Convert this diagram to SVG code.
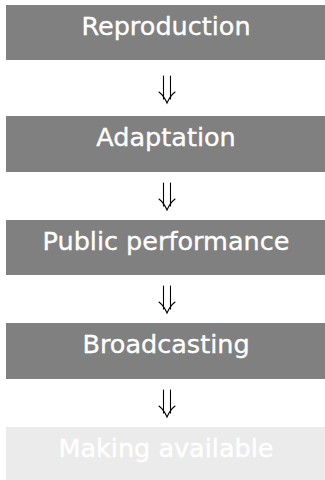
<svg xmlns="http://www.w3.org/2000/svg" width="325" height="480" viewBox="0 0 325 480">
<style>
.box{fill:#808080}
.box.light{fill:#ebebeb}
.lbl{font-family:"DejaVu Sans",sans-serif;font-size:25.5px;fill:#ffffff;stroke:#ffffff;stroke-width:0.35;text-anchor:middle}
.arr{fill:none;stroke:#000;stroke-width:1.1;stroke-linecap:round}
</style>
<rect width="325" height="480" fill="#ffffff"/>
<g id="n1"><rect class="box" x="6" y="5" width="325" height="55"/><text class="lbl" x="166" y="35">Reproduction</text></g>
<g id="n2"><rect class="box" x="6" y="116" width="325" height="56"/><text class="lbl" x="166" y="146">Adaptation</text></g>
<g id="n3"><rect class="box" x="6" y="220" width="325" height="55"/><text class="lbl" x="166" y="250">Public performance</text></g>
<g id="n4"><rect class="box" x="6" y="323" width="325" height="56"/><text class="lbl" x="166" y="353">Broadcasting</text></g>
<g id="n5"><rect class="box light" x="6" y="427" width="325" height="56"/><text class="lbl" x="166" y="457">Making available</text></g>
<defs>
<g id="dbl">
<path class="arr" d="M-3.5 0 V23 M3.5 0 V23"/>
<path class="arr" d="M-8 16 Q-3 20 0 27 Q3 20 8 16"/>
</g>
</defs>
<g id="connectors">
<use href="#dbl" x="167" y="76"/>
<use href="#dbl" x="167" y="183"/>
<use href="#dbl" x="167" y="286"/>
<use href="#dbl" x="167" y="390"/>
</g>
</svg>
